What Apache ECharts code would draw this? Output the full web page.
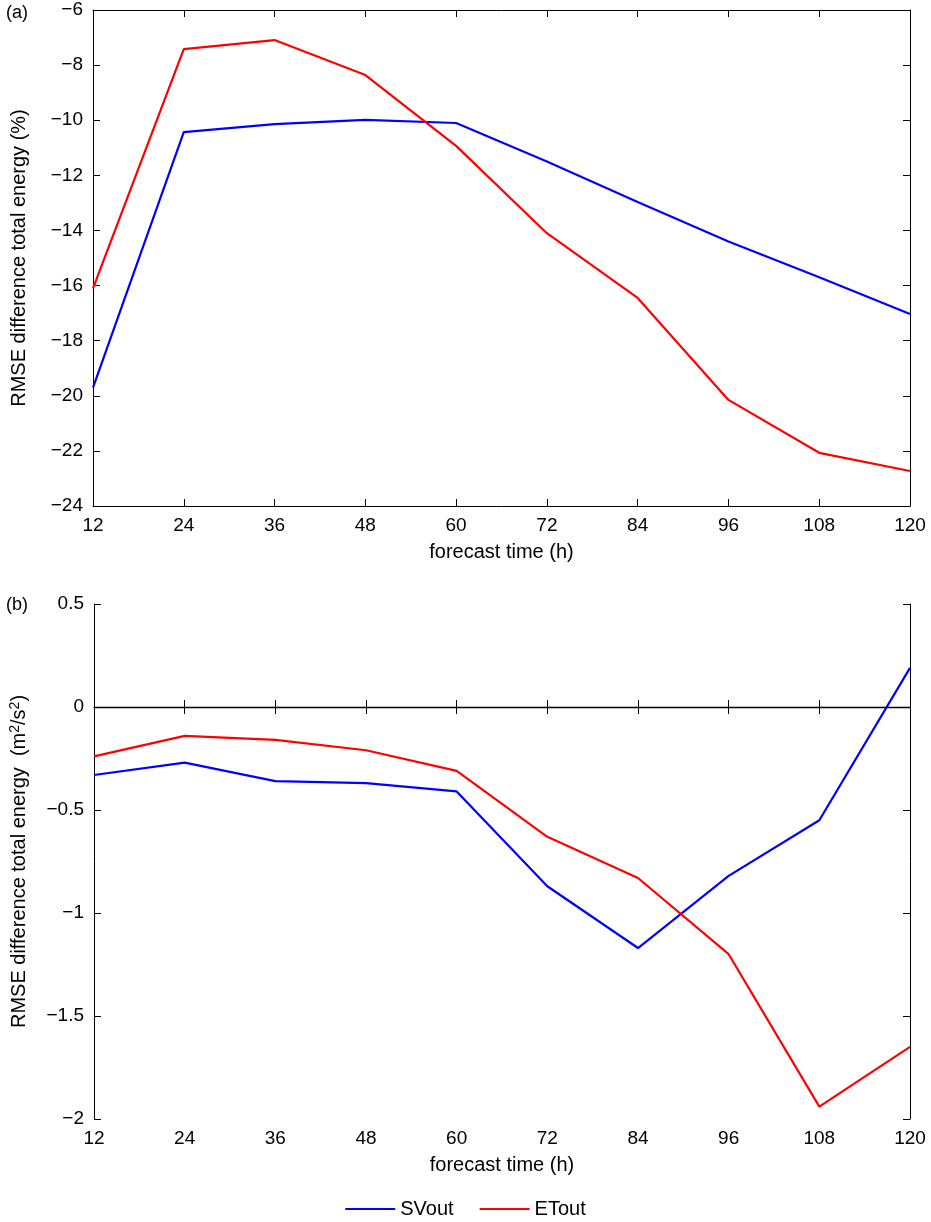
<!DOCTYPE html>
<html><head><meta charset="utf-8">
<script src="https://cdn.jsdelivr.net/npm/echarts@6/dist/echarts.min.js"></script>
<style>html,body{margin:0;padding:0;background:#fff}#c{width:931px;height:1222px}</style>
</head><body><div id="c"></div>
<script>
const hours=[12,24,36,48,60,72,84,96,108,120];
const svA=[-19.7,-10.43,-10.14,-9.99,-10.1,-11.5,-12.97,-14.4,-15.7,-17.03];
const etA=[-16.1,-7.42,-7.09,-8.36,-10.93,-14.1,-16.45,-20.15,-22.07,-22.73];
const svB=[-0.33,-0.27,-0.36,-0.37,-0.41,-0.87,-1.17,-0.82,-0.55,0.19];
const etB=[-0.24,-0.14,-0.16,-0.21,-0.31,-0.63,-0.83,-1.2,-1.94,-1.65];
const F='Liberation Sans, Arial, sans-serif';
const pair=(a)=>hours.map((h,i)=>[h,a[i]]);
const fmt=v=>String(v).replace('-','\u2212');
const ax={axisLine:{show:true,lineStyle:{color:'#000',width:1}},axisTick:{show:true,inside:true,length:7,lineStyle:{color:'#000'}},splitLine:{show:false},axisLabel:{color:'#000',fontSize:19,fontFamily:F,formatter:fmt}};
const hid={...ax,axisLabel:{show:false}};
function xa(g,show){return {type:'value',gridIndex:g,min:12,max:120,interval:12,position:show?'bottom':'top',...(show?ax:hid),
 name:show?'forecast time (h)':'',nameLocation:'middle',nameGap:36,nameTextStyle:{color:'#000',fontSize:20,fontFamily:F},axisLabel:show?{...ax.axisLabel,margin:10}:{show:false}};}
function ya(g,show,min,max,iv,name){return {type:'value',gridIndex:g,min,max,interval:iv,position:show?'left':'right',...(show?ax:hid),
 name:show?name:'',nameLocation:'middle',nameGap:64,nameTextStyle:{color:'#000',fontSize:20,fontFamily:F,rich:{sup:{fontSize:14,verticalAlign:'top',color:'#000',fontFamily:F,padding:[0,0,8,0]}}},axisLabel:show?{...ax.axisLabel,margin:10}:{show:false}};}
const ln=(name,color,xi,yi,data,extra)=>Object.assign({name,type:'line',xAxisIndex:xi,yAxisIndex:yi,data:pair(data),symbol:'none',lineStyle:{color,width:2.2},itemStyle:{color}},extra||{});
const chart=echarts.init(document.getElementById('c'));
chart.setOption({
 animation:false,
 grid:[{left:93,top:10,width:817,height:496},{left:93,top:604,width:817,height:515}],
 xAxis:[xa(0,true),xa(0,false),xa(1,true),xa(1,false)],
 yAxis:[ya(0,true,-24,-6,2,'RMSE difference total energy (%)'),ya(0,false,-24,-6,2,''),
        ya(1,true,-2,0.5,0.5,'RMSE difference total energy  (m{sup|2}/s{sup|2})'),ya(1,false,-2,0.5,0.5,'')],
 legend:{bottom:-2,left:'center',itemWidth:50,itemHeight:2,itemGap:26,icon:'rect',textStyle:{color:'#000',fontSize:20,fontFamily:F},data:['SVout','ETout']},
 graphic:[{type:'text',left:6,top:4,style:{text:'(a)',fontSize:18,fontFamily:F,fill:'#000'}},
          {type:'text',left:6,top:596,style:{text:'(b)',fontSize:18,fontFamily:F,fill:'#000'}}],
 series:[ln('SVout','#0000ff',0,0,svA),ln('ETout','#ff0000',0,0,etA),
   ln('SVout','#0000ff',2,2,svB,{markLine:{silent:true,symbol:'none',label:{show:false},lineStyle:{color:'#000',type:'solid',width:1.3},data:[{yAxis:0}]}}),
   ln('ETout','#ff0000',2,2,etB)]
});
</script></body></html>
